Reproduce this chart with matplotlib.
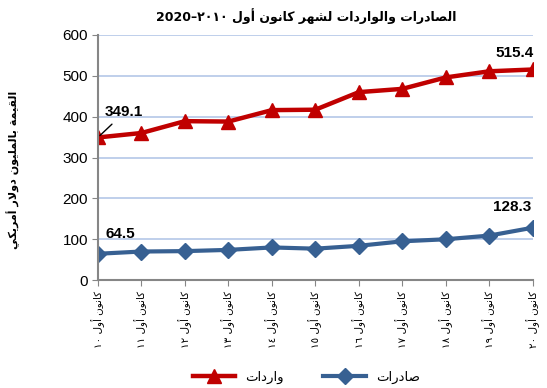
import re
import matplotlib
matplotlib.use('Agg')
import matplotlib.pyplot as plt

plt.rcParams['font.family'] = ['Liberation Sans', 'DejaVu Sans']
plt.rcParams['axes.unicode_minus'] = False

# البيانات
months = ['كانون أول ١٠', 'كانون أول ١١', 'كانون أول ١٢', 'كانون أول ١٣',
          'كانون أول ١٤', 'كانون أول ١٥', 'كانون أول ١٦', 'كانون أول ١٧',
          'كانون أول ١٨', 'كانون أول ١٩', 'كانون أول ٢٠']
imports = [349.1, 360, 389, 388, 416, 417, 460, 468, 496, 511, 515.4]
exports = [64.5, 70, 71, 74, 80, 77, 84, 95, 100, 109, 128.3]

title = 'الصادرات والواردات لشهر كانون أول ٢٠١٠–2020'
ylabel = 'القيمة بالمليون دولار أمريكي'
imports_name = 'واردات'
exports_name = 'صادرات'

# أشكال الحروف: (منفصل، نهائي، بدائي، وسطي)
FORMS = {
    'ا': (0xFE8D, 0xFE8E, None, None),
    'أ': (0xFE83, 0xFE84, None, None),
    'ب': (0xFE8F, 0xFE90, 0xFE91, 0xFE92),
    'ة': (0xFE93, 0xFE94, None, None),
    'ت': (0xFE95, 0xFE96, 0xFE97, 0xFE98),
    'د': (0xFEA9, 0xFEAA, None, None),
    'ر': (0xFEAD, 0xFEAE, None, None),
    'ش': (0xFEB5, 0xFEB6, 0xFEB7, 0xFEB8),
    'ص': (0xFEB9, 0xFEBA, 0xFEBB, 0xFEBC),
    'ق': (0xFED5, 0xFED6, 0xFED7, 0xFED8),
    'ك': (0xFED9, 0xFEDA, 0xFEDB, 0xFEDC),
    'ل': (0xFEDD, 0xFEDE, 0xFEDF, 0xFEE0),
    'م': (0xFEE1, 0xFEE2, 0xFEE3, 0xFEE4),
    'ن': (0xFEE5, 0xFEE6, 0xFEE7, 0xFEE8),
    'ه': (0xFEE9, 0xFEEA, 0xFEEB, 0xFEEC),
    'و': (0xFEED, 0xFEEE, None, None),
    'ي': (0xFEF1, 0xFEF2, 0xFEF3, 0xFEF4),
}
LAM_ALEF = {'ا': (0xFEFB, 0xFEFC), 'أ': (0xFEF7, 0xFEF8)}


def ar(text):
    """تشكيل النص العربي وترتيبه للعرض من اليسار إلى اليمين"""
    n = len(text)
    out = []
    i = 0
    while i < n:
        c = text[i]
        prev_joins = i > 0 and text[i - 1] in FORMS and FORMS[text[i - 1]][2] is not None
        if c == 'ل' and i + 1 < n and text[i + 1] in LAM_ALEF:
            lig = LAM_ALEF[text[i + 1]]
            out.append(chr(lig[1] if prev_joins else lig[0]))
            i += 2
            continue
        if c in FORMS:
            f = FORMS[c]
            next_joins = i + 1 < n and text[i + 1] in FORMS and f[2] is not None
            if prev_joins and next_joins:
                out.append(chr(f[3]))
            elif prev_joins:
                out.append(chr(f[1]))
            elif next_joins:
                out.append(chr(f[2]))
            else:
                out.append(chr(f[0]))
        else:
            out.append(c)
        i += 1
    s = ''.join(out)[::-1]
    return re.sub(r'[0-9\u0660-\u0669A-Za-z.]+', lambda m: m.group(0)[::-1], s)


red = '#C00000'
blue = '#376092'
grid_color = '#B4C7E7'
axis_color = '#868686'

fig = plt.figure(figsize=(5.47, 3.88), dpi=100)
ax = fig.add_axes([0.179, 0.278, 0.795, 0.632])

x = list(range(len(months)))
ax.plot(x, imports, color=red, lw=3.2, marker='^', markersize=10, label=ar(imports_name))
ax.plot(x, exports, color=blue, lw=3, marker='D', markersize=8, label=ar(exports_name))

ax.set_xlim(0, len(months) - 1)
ax.set_ylim(0, 600)
ax.set_yticks(range(0, 601, 100))
ax.set_xticks(x)
ax.set_xticklabels([ar(m) for m in months], rotation=90, fontsize=7.5,
                   family=['DejaVu Sans'])
ax.tick_params(axis='y', labelsize=11, length=4, color=axis_color, pad=3)
ax.tick_params(axis='x', length=4, color=axis_color, pad=4)

ax.yaxis.grid(True, color=grid_color, lw=1.2)
ax.set_axisbelow(True)
for side in ['top', 'right']:
    ax.spines[side].set_visible(False)
for side in ['left', 'bottom']:
    ax.spines[side].set_color(axis_color)
    ax.spines[side].set_linewidth(1.5)

ax.set_ylabel(ar(ylabel), fontsize=8, fontweight='bold', family=['DejaVu Sans'])
ax.yaxis.set_label_coords(-0.18, 0.45)

fig.text(0.56, 0.958, ar(title), ha='center', va='center', fontsize=9,
         fontweight='bold', family=['DejaVu Sans'])

# تسميات القيم
lbl = dict(fontsize=11, fontweight='bold', ha='center', va='center',
           textcoords='offset points')
ax.annotate(f'{imports[0]}', (x[0], imports[0]), xytext=(19, 18),
            arrowprops=dict(arrowstyle='-', color='black', lw=1,
                            shrinkA=2, shrinkB=2), **lbl)
ax.annotate(f'{imports[-1]}', (x[-1], imports[-1]), xytext=(-13, 12), **lbl)
ax.annotate(f'{exports[0]}', (x[0], exports[0]), xytext=(16, 14), **lbl)
ax.annotate(f'{exports[-1]}', (x[-1], exports[-1]), xytext=(-15, 15), **lbl)

for t in ax.texts:
    t.set_clip_on(False)

ax.legend(loc='center', bbox_to_anchor=(0.56, 0.028), bbox_transform=fig.transFigure,
          ncol=2, frameon=False, handlelength=3.2, columnspacing=3,
          prop={'family': ['DejaVu Sans'], 'size': 9.5})

fig.savefig('out.png', dpi=100)
